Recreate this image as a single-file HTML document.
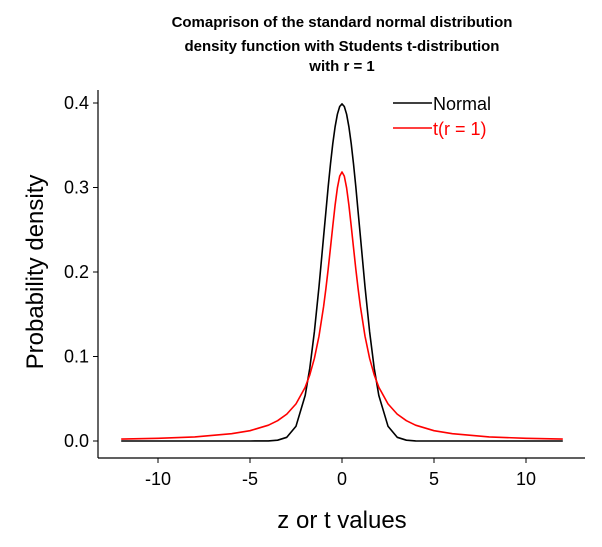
<!DOCTYPE html>
<html><head><meta charset="utf-8"><style>
body{margin:0;background:#fff;}
svg{display:block;font-family:"Liberation Sans",Arial,sans-serif;}
</style></head><body>
<svg id="chart" width="602" height="547">
<g font-weight="bold" font-size="15" text-anchor="middle">
<text x="342" y="27">Comaprison of the standard normal distribution</text>
<text x="342" y="51">density function with Students t-distribution</text>
<text x="342" y="71">with r = 1</text>
</g>
<line x1="98" y1="90" x2="98" y2="458" stroke="#000" stroke-width="1.2"/>
<line x1="98" y1="458" x2="585" y2="458" stroke="#000" stroke-width="1.2"/>
<g id="yticks"></g>
<g id="xticks"></g>
<text x="342" y="528" font-size="24" text-anchor="middle">z or t values</text>
<text transform="translate(43,272) rotate(-90)" font-size="24" text-anchor="middle">Probability density</text>
<g id="series"></g>
<g font-size="18">
<g><line x1="393" y1="103" x2="432" y2="103" stroke="#000" stroke-width="1.5"/><text x="433" y="110">Normal</text></g>
<g><line x1="393" y1="128" x2="432" y2="128" stroke="#f00" stroke-width="1.5"/><text x="433" y="135" fill="#f00">t(r = 1)</text></g>
</g>
</svg>
<script>
const xVals=[-12,-10,-8,-6,-5,-4,-3.5,-3,-2.5,-2,-1.75,-1.5,-1.25,-1,-0.875,-0.75,-0.625,-0.5,-0.375,-0.25,-0.125,0,0.125,0.25,0.375,0.5,0.625,0.75,0.875,1,1.25,1.5,1.75,2,2.5,3,3.5,4,5,6,8,10,12];
const normalVals=[0,0,0,0,0,0.0001,0.0009,0.0044,0.0175,0.0540,0.0863,0.1295,0.1826,0.2420,0.2714,0.3011,0.3280,0.3521,0.3718,0.3867,0.3958,0.3989,0.3958,0.3867,0.3718,0.3521,0.3280,0.3011,0.2714,0.2420,0.1826,0.1295,0.0863,0.0540,0.0175,0.0044,0.0009,0.0001,0,0,0,0,0];
const tVals=[0.0022,0.0032,0.0049,0.0086,0.0122,0.0187,0.0240,0.0318,0.0439,0.0637,0.0784,0.0979,0.1242,0.1592,0.1803,0.2037,0.2290,0.2546,0.2792,0.2996,0.3135,0.3183,0.3135,0.2996,0.2792,0.2546,0.2290,0.2037,0.1803,0.1592,0.1242,0.0979,0.0784,0.0637,0.0439,0.0318,0.0240,0.0187,0.0122,0.0086,0.0049,0.0032,0.0022];
const xTicks=[-10,-5,0,5,10];
const yTicks=[0,0.1,0.2,0.3,0.4];
const yTickLabels=["0.0","0.1","0.2","0.3","0.4"];
const NS="http://www.w3.org/2000/svg";
const sx=v=>342+v*18.4;
const sy=v=>441-v*845;
function mk(tag,attrs,parent){const e=document.createElementNS(NS,tag);for(const k in attrs)e.setAttribute(k,attrs[k]);parent.appendChild(e);return e;}
const yt=document.getElementById('yticks');
yTicks.forEach((v,i)=>{
  const l=mk('line',{x1:93,x2:98,y1:sy(v),y2:sy(v),stroke:'#000'},yt);
  
  
  const t=mk('text',{x:89,y:sy(v)+6,'font-size':18,'text-anchor':'end'},yt);
  t.textContent=yTickLabels[i];
  
  
});
const xt=document.getElementById('xticks');
xTicks.forEach(v=>{
  const l=mk('line',{x1:sx(v),x2:sx(v),y1:458,y2:463,stroke:'#000'},xt);
  
  
  const t=mk('text',{x:sx(v),y:485,'font-size':18,'text-anchor':'middle'},xt);
  t.textContent=v;
  
  
});
const sg=document.getElementById('series');
function line(vals,color,name){
  const d=vals.map((v,i)=>(i?'L':'M')+sx(xVals[i]).toFixed(1)+','+sy(v).toFixed(1)).join('');
  const p=mk('path',{d:d,fill:'none',stroke:color,'stroke-width':1.6,'stroke-linejoin':'round'},sg);
  
  
}
line(normalVals,'#000','normal-curve');
line(tVals,'#f00','t-curve');
</script>
</body></html>
